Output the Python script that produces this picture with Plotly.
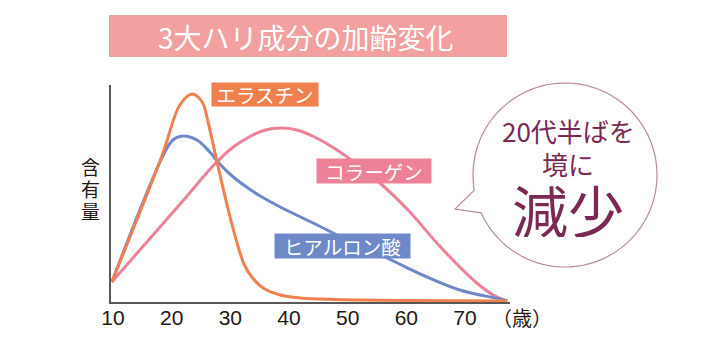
import math
import plotly.graph_objects as go

# ---- data ----
ages_elastin = [9.8, 18.4, 21.4, 23.5, 25.2, 26.2, 27.7, 29.4, 31.1, 32.4, 33.8, 35.6, 38.5, 42.0, 48.0, 60.0, 77.2]
val_elastin = [20, 147, 197, 208, 200, 180, 141, 98, 60, 37, 24, 14, 7, 4, 2.5, 1.5, 1]

ages_hyal = [9.8, 18.5, 20.2, 21.9, 24.3, 26.5, 28.2, 30.5, 33.0, 35.1, 38.5, 44.8, 48.2, 56.7, 63.5, 69.1, 75.9, 77.2]
val_hyal = [20, 146, 162, 166, 162, 150, 138, 125, 114, 106, 95, 77, 67, 44, 25, 12, 3, 1]

ages_coll = [9.8, 21.6, 27.2, 30.5, 33.5, 36.0, 38.5, 41.0, 44.0, 48.2, 55.3, 60.6, 65.2, 69.1, 72.0, 74.8, 77.2]
val_coll = [20, 99, 137, 155, 166, 172, 174, 172.5, 166, 152, 120, 90, 59, 35, 19, 7, 1]

tick_vals = [10, 20, 30, 40, 50, 60, 70]
tick_text = ["10", "20", "30", "40", "50", "60", "70"]

title_text = "3大ハリ成分の加齢変化"
unit_text = "（歳）"
ylabel_chars = ["含", "有", "量"]
label_elastin = "エラスチン"
label_coll = "コラーゲン"
label_hyal = "ヒアルロン酸"
bubble_lines = ["20代半ばを", "境に"]
bubble_big = "減少"

# ---- styles ----
FONT = "Noto Sans CJK JP"
C_ORANGE = "#f0814f"
C_BLUE = "#6e88c8"
C_PINK = "#ec8198"
C_TITLE = "#f2a0a0"
C_TEXT = "#231815"
C_WINE = "#7a2a52"
C_BUBBLE = "#b88b9c"

OFF = 8  # page body margin
W, H = 725 - OFF, 356 - OFF
L, R, T, B = 111, 510, 85, 302  # plot area in page pixels


def px(x):
    return (x - L) / (R - L)


def py(y):
    return (B - y) / (B - T)


fig = go.Figure()
for xs, ys, col in [(ages_coll, val_coll, C_PINK),
                    (ages_hyal, val_hyal, C_BLUE),
                    (ages_elastin, val_elastin, C_ORANGE)]:
    fig.add_trace(go.Scatter(x=xs, y=ys, mode="lines",
                             line=dict(color=col, width=3, shape="spline", smoothing=1.0),
                             hoverinfo="skip"))

shapes = []
shapes.append(dict(type="rect", xref="paper", yref="paper",
                   x0=px(109), x1=px(507), y0=py(15), y1=py(57),
                   fillcolor=C_TITLE, line=dict(width=0), layer="above"))

cx, cy, r = 565, 175, 92
a1, a2 = 170.5, 155.7 + 360
pts = []
n = 120
for i in range(n + 1):
    a = math.radians(a1 + (a2 - a1) * i / n)
    pts.append((cx + r * math.cos(a), cy + r * math.sin(a)))
pts.append((455, 209))
path = "M " + " L ".join(f"{px(x):.5f},{py(y):.5f}" for x, y in pts) + " Z"
shapes.append(dict(type="path", xref="paper", yref="paper", path=path,
                   fillcolor="white", line=dict(color=C_BUBBLE, width=1.2), layer="above"))

annotations = []
annotations.append(dict(xref="paper", yref="paper", x=px(306), y=py(37), text=title_text,
                        showarrow=False, xanchor="center", yanchor="middle",
                        font=dict(family=FONT, size=28, color="white")))

for ch, yy in zip(ylabel_chars, [166, 188, 210]):
    annotations.append(dict(xref="paper", yref="paper", x=px(90), y=py(yy), text=ch,
                            showarrow=False, xanchor="center", yanchor="middle",
                            height=21, borderpad=0,
                            font=dict(family=FONT, size=19, color=C_TEXT)))

annotations.append(dict(xref="paper", yref="paper", x=px(522), y=py(317), text=unit_text,
                        showarrow=False, xanchor="center", yanchor="middle",
                        font=dict(family=FONT, size=20, color=C_TEXT)))

for text, (x0, x1, y0, y1), col in [
    (label_elastin, (212, 318, 83, 106), C_ORANGE),
    (label_coll, (317, 431, 159, 183), C_PINK),
    (label_hyal, (275, 410, 234, 258), C_BLUE),
]:
    annotations.append(dict(xref="paper", yref="paper", x=px((x0 + x1) / 2), y=py((y0 + y1) / 2),
                            text=text, showarrow=False, xanchor="center", yanchor="middle",
                            width=x1 - x0, height=y1 - y0, bgcolor=col, borderpad=0,
                            font=dict(family=FONT, size=19.5, color="white")))

for text, yy in zip(bubble_lines, [130, 163]):
    annotations.append(dict(xref="paper", yref="paper", x=px(568), y=py(yy), text=text,
                            showarrow=False, xanchor="center", yanchor="middle",
                            height=29, borderpad=0,
                            font=dict(family=FONT, size=26, color=C_WINE)))
annotations.append(dict(xref="paper", yref="paper", x=px(568), y=py(208), text=bubble_big,
                        showarrow=False, xanchor="center", yanchor="middle",
                        height=58, borderpad=0,
                        font=dict(family=FONT, size=56, color=C_WINE)))

x_lo = 10 + (L - 113) / 5.867
x_hi = 10 + (R - 113) / 5.867

fig.update_layout(
    width=W, height=H,
    margin=dict(l=L - OFF, r=725 - R, t=T - OFF, b=356 - B),
    paper_bgcolor="white", plot_bgcolor="white",
    showlegend=False,
    shapes=shapes, annotations=annotations,
    xaxis=dict(range=[x_lo, x_hi], tickvals=tick_vals, ticktext=tick_text,
               showgrid=False, zeroline=False, showline=True, linecolor="#595757", linewidth=1.5,
               ticks="", ticklabelstandoff=-4,
               tickfont=dict(family="Liberation Sans, Arial", size=21, color=C_TEXT),
               fixedrange=True),
    yaxis=dict(range=[0, B - T], showticklabels=False, showgrid=False, zeroline=False,
               showline=True, linecolor="#595757", linewidth=1.5, ticks="", fixedrange=True),
)

fig.write_html("out.html", config={"displayModeBar": False})
